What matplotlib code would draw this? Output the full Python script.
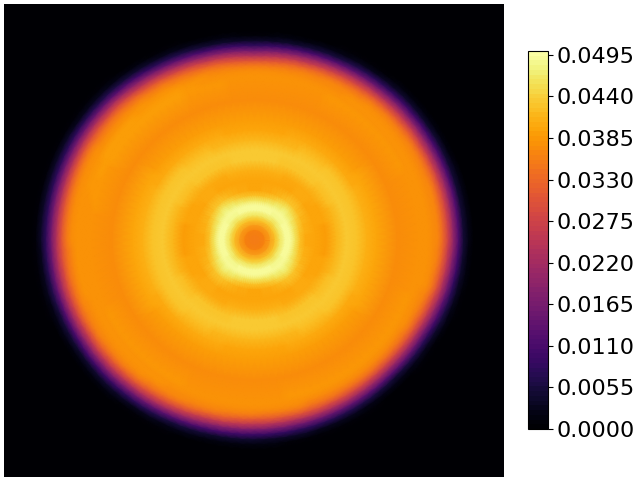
import numpy as np
import matplotlib
matplotlib.use("Agg")
import matplotlib.pyplot as plt

radii = [0, 10, 20, 25, 30, 35, 40, 45, 50, 60, 70, 80, 90, 100, 110, 120, 140, 160,
         165, 170, 175, 180, 185, 190, 195, 200, 205, 210, 215, 220, 225]
angles = [0, 15, 30, 45, 60, 75, 90, 105, 120, 135, 150, 165,
          180, 195, 210, 225, 240, 255, 270, 285, 300, 315, 330, 345]
field_by_angle = [
 [345,365,430,468,488,490,458,420,405,395,392,415,435,430,410,397,375,380, 378,378,375,365,330,270,200,120,50,20,5,0,0],
 [345,365,430,468,488,490,462,428,408,395,394,415,435,428,408,396,375,380, 378,378,375,365,330,270,200,120,50,20,5,0,0],
 [345,365,430,466,488,490,470,445,420,398,400,420,435,426,406,394,375,382, 378,377,373,358,318,256,184,106,44,17,4,0,0],
 [345,365,428,460,484,490,478,462,430,402,405,425,437,425,405,393,375,384, 378,377,371,351,306,242,168,92,38,14,3,0,0],
 [345,365,430,466,488,490,470,445,418,398,404,428,436,420,402,392,375,382, 378,375,367,337,282,214,136,64,26,8,1,0,0],
 [345,365,430,468,488,490,462,426,402,395,408,432,433,416,400,390,375,380, 378,373,358,318,256,184,106,44,17,4,0,0,0],
 [345,365,430,468,488,490,458,420,398,395,412,435,432,415,400,390,375,380, 376,369,344,294,228,152,78,32,11,2,0,0,0],
 [345,365,430,468,488,490,462,426,402,395,408,432,433,416,400,390,375,382, 378,373,358,318,256,184,106,44,17,4,0,0,0],
 [345,365,430,466,488,490,470,445,418,398,404,428,436,420,402,392,374,390, 392,385,369,344,294,228,152,78,32,11,2,0,0],
 [345,365,428,460,484,490,478,462,430,402,405,425,437,425,405,393,373,390, 392,388,380,367,337,282,214,136,64,26,8,1,0],
 [345,365,430,466,488,490,470,445,420,398,400,420,435,426,406,394,374,388, 392,388,380,369,344,294,228,152,78,32,11,2,0],
 [345,365,430,468,488,490,462,428,408,395,394,415,435,428,408,396,375,382, 382,380,377,369,344,294,228,152,78,32,11,2,0],
 [345,365,430,468,488,490,458,420,405,395,392,415,435,430,410,397,375,380, 378,378,377,369,344,294,228,152,78,32,11,2,0],
 [345,365,430,468,488,490,462,428,408,395,394,415,435,428,408,396,375,380, 378,378,376,367,337,282,214,136,64,26,8,1,0],
 [345,365,430,466,488,490,470,445,420,398,400,420,435,426,406,394,375,382, 378,377,373,358,318,256,184,106,44,17,4,0,0],
 [345,365,428,460,484,490,478,462,430,402,405,425,437,425,405,393,375,384, 378,377,371,351,306,242,168,92,38,14,3,0,0],
 [345,365,430,466,488,490,470,445,418,398,404,428,436,420,402,392,375,382, 378,375,367,337,282,214,136,64,26,8,1,0,0],
 [345,365,430,468,488,490,462,426,402,395,408,432,433,416,400,390,375,380, 378,373,358,318,256,184,106,44,17,4,0,0,0],
 [345,365,430,468,488,490,458,420,398,395,412,435,432,415,400,390,375,380, 377,371,351,306,242,168,92,38,14,3,0,0,0],
 [345,365,430,468,488,490,462,426,402,395,408,432,433,416,400,390,375,382, 378,369,344,294,228,152,78,32,11,2,0,0,0],
 [345,365,430,466,488,490,470,445,418,398,404,428,436,420,402,392,374,384, 380,367,337,282,214,136,64,26,8,1,0,0,0],
 [345,365,428,460,484,490,478,462,430,402,405,425,437,425,405,393,373,384, 380,365,330,270,200,120,50,20,5,0,0,0,0],
 [345,365,430,466,488,490,470,445,420,398,400,420,435,426,406,394,374,384, 380,369,344,294,228,152,78,32,11,2,0,0,0],
 [345,365,430,468,488,490,462,428,408,395,394,415,435,428,408,396,375,380, 378,376,369,344,294,228,152,78,32,11,2,0,0],
]
tick_values = [0.0, 0.0055, 0.011, 0.0165, 0.022, 0.0275, 0.033, 0.0385, 0.044, 0.0495]
tick_labels = ["0.0000", "0.0055", "0.0110", "0.0165", "0.0220",
               "0.0275", "0.0330", "0.0385", "0.0440", "0.0495"]
value_max = 0.05
centre_x, centre_y = 250.5, 236
stretch_x = 1.02

field = np.array(field_by_angle, dtype=float) * 1e-4
field = np.vstack([field, field[:1]])
r = np.array(radii, dtype=float)
theta_deg = np.array(angles + [360], dtype=float)

# Draw on true arcs rather than 15-degree chords, so the outline stays round.
fine_deg = np.arange(0, 361, 3.0)
fine_field = np.column_stack([np.interp(fine_deg, theta_deg, field[:, k]) for k in range(len(r))])
rr, tt = np.meshgrid(r, np.deg2rad(fine_deg))
X = centre_x + stretch_x * rr * np.cos(tt)
Y = centre_y - rr * np.sin(tt)

cmap = plt.get_cmap("inferno", 80)

fig = plt.figure(figsize=(6.4, 4.8), dpi=100)
ax = fig.add_axes([4 / 640, 1 - 477 / 480, 500 / 640, 473 / 480])
ax.set_facecolor(cmap(0))
mesh = ax.pcolormesh(X, Y, fine_field, cmap=cmap, vmin=0, vmax=value_max, shading="gouraud")
ax.set_xlim(0, 500)
ax.set_ylim(473, 0)
ax.set_xticks([])
ax.set_yticks([])
for spine in ax.spines.values():
    spine.set_visible(False)

cax = fig.add_axes([528 / 640, 1 - 429 / 480, 20 / 640, 378 / 480])
cb = fig.colorbar(mesh, cax=cax)
cb.set_ticks(tick_values)
cb.set_ticklabels(tick_labels)
cb.ax.tick_params(labelsize=16, pad=2.4)

fig.savefig("out.png", dpi=100)
